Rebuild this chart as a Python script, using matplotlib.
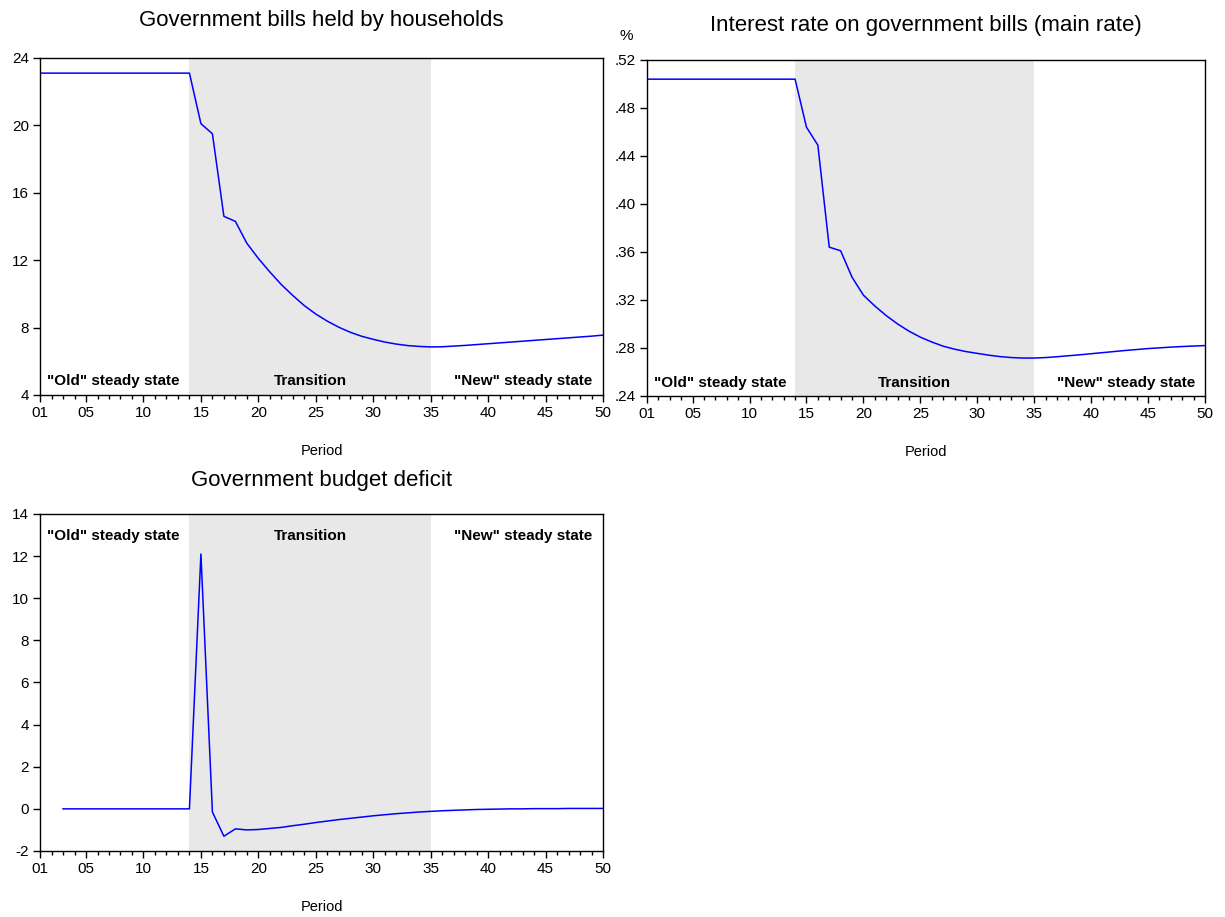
import numpy as np
import matplotlib
matplotlib.use('Agg')
import matplotlib.pyplot as plt
from matplotlib.ticker import FixedLocator, FuncFormatter, MultipleLocator

plt.rcParams['font.family'] = ['Liberation Sans', 'DejaVu Sans']

periods = list(range(1, 51))

bills = [23.1] * 14 + [
    20.1, 19.5, 14.6, 14.3, 13.0, 12.1, 11.3, 10.55, 9.9, 9.3,
    8.8, 8.38, 8.02, 7.72, 7.48, 7.3, 7.14, 7.02, 6.93, 6.88,
    6.85, 6.86, 6.9, 6.94, 6.99, 7.04, 7.09, 7.14, 7.19, 7.24,
    7.29, 7.34, 7.39, 7.44, 7.49, 7.55]

rate = [0.504] * 14 + [
    0.464, 0.449, 0.364, 0.361, 0.339, 0.324, 0.315, 0.307, 0.300, 0.294,
    0.289, 0.285, 0.2815, 0.279, 0.277, 0.2755, 0.274, 0.2728, 0.272, 0.2716,
    0.2716, 0.272, 0.2727, 0.2735, 0.2743, 0.2752, 0.2761, 0.277, 0.2779, 0.2787,
    0.2795, 0.2801, 0.2807, 0.2812, 0.2816, 0.282]

deficit_periods = list(range(3, 51))
deficit = [0.0] * 12 + [
    12.1, -0.15, -1.3, -0.95, -1.0, -0.98, -0.93, -0.88, -0.8, -0.73,
    -0.65, -0.58, -0.51, -0.45, -0.39, -0.33, -0.28, -0.23, -0.19, -0.15,
    -0.12, -0.09, -0.07, -0.05, -0.03, -0.02, -0.01, 0.0, 0.0, 0.01,
    0.01, 0.01, 0.02, 0.02, 0.02, 0.02]

trans_start, trans_end = 14, 35
xticks = [1, 5, 10, 15, 20, 25, 30, 35, 40, 45, 50]

fig = plt.figure(figsize=(12.25, 9.17), dpi=100)
ax1 = fig.add_axes([0.0327, 0.5693, 0.4596, 0.3675])
ax2 = fig.add_axes([0.5282, 0.5682, 0.4555, 0.3664])
ax3 = fig.add_axes([0.0327, 0.0720, 0.4596, 0.3675])


def style(ax, title, ylim, yticks, yfmt, text_y, pad):
    ax.axvspan(trans_start, trans_end, color='#e8e8e8', lw=0, zorder=0)
    ax.set_xlim(1, 50)
    ax.set_ylim(*ylim)
    ax.xaxis.set_major_locator(FixedLocator(xticks))
    ax.xaxis.set_minor_locator(MultipleLocator(1))
    ax.xaxis.set_major_formatter(FuncFormatter(lambda v, p: '%02d' % int(round(v))))
    ax.yaxis.set_major_locator(FixedLocator(yticks))
    ax.yaxis.set_major_formatter(FuncFormatter(yfmt))
    ax.tick_params(axis='both', which='major', direction='out', length=5,
                   width=1, labelsize=11, colors='black', pad=3)
    ax.tick_params(axis='x', which='minor', direction='out', length=3, width=1)
    for s in ax.spines.values():
        s.set_linewidth(1.0)
    ax.set_title(title, fontsize=16, pad=pad)
    ax.set_xlabel('Period', fontsize=10.5, labelpad=17)
    kw = dict(transform=ax.get_xaxis_transform(), fontsize=11,
              fontweight='bold', va='center')
    ax.text(1.6, text_y, '"Old" steady state', ha='left', **kw)
    ax.text(24.5, text_y, 'Transition', ha='center', **kw)
    ax.text(49.1, text_y, '"New" steady state', ha='right', **kw)


ax1.plot(periods, bills, color='#0000ff', lw=1.1)
style(ax1, 'Government bills held by households', (4, 24),
      [4, 8, 12, 16, 20, 24], lambda v, p: '%d' % v, 0.04, 23)

ax2.plot(periods, rate, color='#0000ff', lw=1.1)
style(ax2, 'Interest rate on government bills (main rate)', (0.24, 0.52),
      [0.24, 0.28, 0.32, 0.36, 0.40, 0.44, 0.48, 0.52],
      lambda v, p: ('%.2f' % v).lstrip('0'), 0.04, 21)
ax2.text(-0.05, 1.05, '%', transform=ax2.transAxes, fontsize=11,
         ha='left', va='bottom')

ax3.plot(deficit_periods, deficit, color='#0000ff', lw=1.1)
style(ax3, 'Government budget deficit', (-2, 14),
      [-2, 0, 2, 4, 6, 8, 10, 12, 14], lambda v, p: '%d' % v, 0.935, 20)

fig.savefig('out.png', dpi=100)
